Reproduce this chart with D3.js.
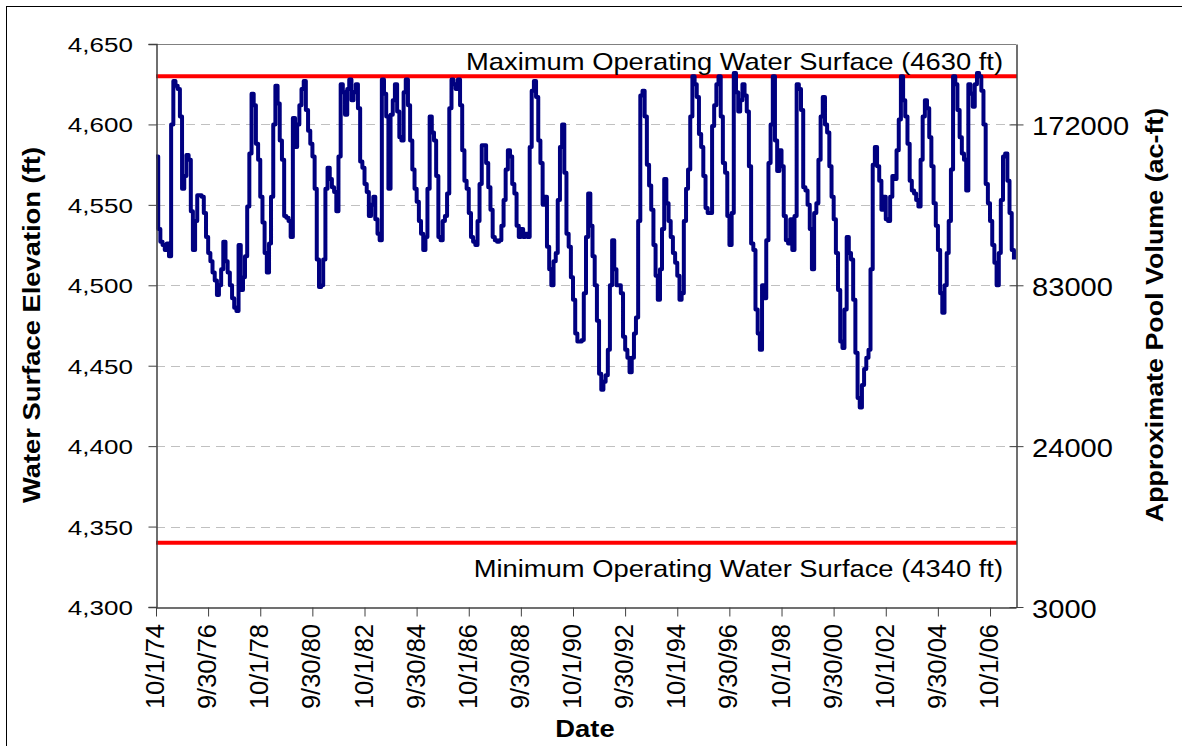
<!DOCTYPE html>
<html>
<head>
<meta charset="utf-8">
<script src="https://cdn.jsdelivr.net/npm/d3@7"></script>
<style>
  body { margin: 0; background: #fff; }
  svg { display: block; font-family: "Liberation Sans", Arial, sans-serif; }
</style>
</head>
<body>
<svg id="chart" width="1182" height="746"></svg>
<script>
// monthly pool elevation (ft), one row per water year (Oct..Sep)
var waterYears = [1975, 1976, 1977, 1978, 1979, 1980, 1981, 1982, 1983, 1984, 1985,
  1986, 1987, 1988, 1989, 1990, 1991, 1992, 1993, 1994, 1995, 1996,
  1997, 1998, 1999, 2000, 2001, 2002, 2003, 2004, 2005, 2006, 2007];

var elevationByYear = [
  [4580, 4535, 4527, 4525, 4522, 4526, 4518, 4600, 4627, 4624, 4622, 4605],
  [4560, 4568, 4581, 4578, 4546, 4522, 4540, 4556, 4556, 4555, 4545, 4530],
  [4520, 4515, 4508, 4503, 4494, 4500, 4510, 4527, 4515, 4508, 4500, 4492],
  [4486, 4484, 4525, 4497, 4505, 4518, 4549, 4582, 4619, 4612, 4588, 4578],
  [4555, 4539, 4520, 4508, 4526, 4555, 4600, 4624, 4613, 4590, 4578, 4543],
  [4542, 4540, 4530, 4604, 4586, 4600, 4612, 4622, 4627, 4609, 4596, 4588],
  [4580, 4560, 4516, 4499, 4500, 4516, 4560, 4573, 4566, 4561, 4558, 4546],
  [4580, 4625, 4620, 4606, 4622, 4628, 4615, 4620, 4625, 4610, 4577, 4573],
  [4563, 4558, 4543, 4550, 4555, 4541, 4532, 4528, 4628, 4619, 4605, 4560],
  [4606, 4615, 4625, 4608, 4592, 4590, 4620, 4628, 4612, 4590, 4572, 4560],
  [4552, 4540, 4532, 4522, 4530, 4560, 4605, 4595, 4590, 4568, 4530, 4528],
  [4540, 4543, 4557, 4610, 4628, 4625, 4622, 4628, 4612, 4584, 4565, 4560],
  [4545, 4530, 4527, 4525, 4540, 4563, 4587, 4587, 4576, 4561, 4547, 4530],
  [4528, 4527, 4528, 4537, 4553, 4572, 4584, 4580, 4563, 4557, 4537, 4530],
  [4535, 4530, 4532, 4530, 4586, 4621, 4627, 4617, 4590, 4576, 4550, 4555],
  [4524, 4510, 4500, 4515, 4520, 4553, 4586, 4600, 4570, 4532, 4524, 4505],
  [4491, 4470, 4465, 4465, 4466, 4495, 4530, 4557, 4537, 4518, 4500, 4478],
  [4445, 4435, 4440, 4444, 4460, 4500, 4528, 4510, 4500, 4500, 4495, 4468],
  [4460, 4455, 4446, 4455, 4470, 4480, 4540, 4618, 4621, 4605, 4575, 4562],
  [4547, 4525, 4506, 4491, 4510, 4535, 4566, 4551, 4540, 4530, 4520, 4514],
  [4506, 4491, 4495, 4540, 4560, 4572, 4605, 4630, 4625, 4617, 4594, 4586],
  [4568, 4548, 4545, 4545, 4599, 4612, 4625, 4630, 4605, 4576, 4570, 4543],
  [4525, 4545, 4632, 4620, 4608, 4615, 4625, 4618, 4608, 4574, 4526, 4522],
  [4485, 4470, 4460, 4500, 4492, 4528, 4576, 4600, 4630, 4590, 4571, 4584],
  [4574, 4543, 4528, 4526, 4541, 4522, 4543, 4625, 4622, 4609, 4561, 4559],
  [4550, 4535, 4510, 4545, 4551, 4578, 4605, 4617, 4600, 4595, 4574, 4555],
  [4541, 4520, 4497, 4465, 4461, 4485, 4530, 4520, 4516, 4491, 4458, 4430],
  [4424, 4438, 4448, 4455, 4460, 4510, 4575, 4586, 4574, 4565, 4547, 4555],
  [4541, 4540, 4555, 4568, 4566, 4584, 4603, 4630, 4615, 4605, 4588, 4565],
  [4559, 4557, 4553, 4549, 4578, 4605, 4615, 4610, 4592, 4574, 4551, 4537],
  [4522, 4495, 4483, 4500, 4520, 4540, 4572, 4630, 4625, 4609, 4592, 4582],
  [4578, 4559, 4625, 4619, 4611, 4625, 4632, 4630, 4621, 4600, 4563, 4551],
  [4540, 4525, 4514, 4500, 4520, 4553, 4580, 4582, 4565, 4545, 4522, 4516]
];

var dateTicks = ["10/1/74", "9/30/76", "10/1/78", "9/30/80", "10/1/82", "9/30/84",
  "10/1/86", "9/30/88", "10/1/90", "9/30/92", "10/1/94", "9/30/96", "10/1/98",
  "9/30/00", "10/1/02", "9/30/04", "10/1/06"];

var elevationTicks = [4300, 4350, 4400, 4450, 4500, 4550, 4600, 4650];
var volumeTickElev = [4300, 4400, 4500, 4600];
var volumeLabels = ["3000", "24000", "83000", "172000"];

var operatingLevels = [
  { elev: 4630, label: "Maximum Operating Water Surface (4630 ft)", dy: -6 },
  { elev: 4340, label: "Minimum Operating Water Surface (4340 ft)", dy: 34 }
];

var parseDate = d3.timeParse("%m/%d/%y");

var series = [];
elevationByYear.forEach(function(row, i) {
  row.forEach(function(v, m) {
    series.push({ date: new Date(waterYears[i] - 1, 9 + m, 1), elev: v });
  });
});

var svg = d3.select("#chart");
var width = +svg.attr("width");
var height = +svg.attr("height");

var plot = { left: 156, right: 1016, top: 44, bottom: 607 };

var x = d3.scaleTime()
  .domain([new Date(1974, 9, 1), new Date(2007, 8, 30)])
  .range([plot.left, plot.right]);

var y = d3.scaleLinear()
  .domain([4300, 4650])
  .range([plot.bottom, plot.top]);

// the original text is drawn a little wide, so each label gets its own x-stretch
function label(g, px, py, str, opts) {
  opts = opts || {};
  return g.append("text")
    .attr("transform", "translate(" + px + "," + py + ") rotate(" + (opts.rotate || 0) + ") scale(" + (opts.stretch || 1) + ",1)")
    .attr("text-anchor", opts.anchor || "start")
    .style("font-size", (opts.size || 22) + "px")
    .style("font-weight", opts.bold ? "bold" : "normal")
    .attr("fill", "#000")
    .text(str);
}

// outer chart frame (only top/left edges are inside the picture)
svg.append("rect")
  .attr("x", 6.5).attr("y", 6.5)
  .attr("width", width + 20).attr("height", height + 20)
  .attr("fill", "#fff")
  .attr("stroke", "#000")
  .attr("stroke-width", 1);

// gridlines
svg.append("g")
  .selectAll("line")
  .data(elevationTicks.filter(function(d) { return d > 4300 && d < 4650; }))
  .enter().append("line")
  .attr("x1", plot.left).attr("x2", plot.right)
  .attr("y1", function(d) { return Math.round(y(d)) + 0.5; })
  .attr("y2", function(d) { return Math.round(y(d)) + 0.5; })
  .attr("stroke", "#c0c0c0")
  .attr("stroke-dasharray", "9,6");

// top border of plot area
svg.append("line")
  .attr("x1", plot.left).attr("x2", plot.right)
  .attr("y1", plot.top + 0.5).attr("y2", plot.top + 0.5)
  .attr("stroke", "#808080");

// operating limits
var limits = svg.append("g");
limits.selectAll("line")
  .data(operatingLevels)
  .enter().append("line")
  .attr("x1", plot.left).attr("x2", plot.right + 1)
  .attr("y1", function(d) { return y(d.elev); })
  .attr("y2", function(d) { return y(d.elev); })
  .attr("stroke", "#ff0000")
  .attr("stroke-width", 4);

operatingLevels.forEach(function(d) {
  label(limits, 1003, y(d.elev) + d.dy, d.label, { anchor: "end", size: 24, stretch: 1.14 });
});

// elevation trace
var line = d3.line()
  .x(function(d) { return x(d.date); })
  .y(function(d) { return y(d.elev); })
  .curve(d3.curveStepAfter);

svg.append("path")
  .datum(series)
  .attr("fill", "none")
  .attr("stroke", "#000080")
  .attr("stroke-width", 4)
  .attr("stroke-linejoin", "round")
  .attr("d", line);

// left axis
var leftAxis = svg.append("g")
  .attr("transform", "translate(" + (plot.left + 0.5) + ",0)")
  .call(d3.axisLeft(y).tickValues(elevationTicks).tickSize(8).tickFormat(""));
leftAxis.select(".domain").attr("stroke", "#404040").attr("stroke-width", 1.5);
leftAxis.selectAll(".tick line").attr("stroke", "#404040");

elevationTicks.forEach(function(d) {
  label(svg, 133, y(d) + 8, d3.format(",")(d), { anchor: "end", size: 21, stretch: 1.24 });
});

// right axis (pool volume)
var rightAxis = svg.append("g")
  .attr("transform", "translate(" + (plot.right + 0.5) + ",0)")
  .call(d3.axisRight(y).tickValues(volumeTickElev).tickSize(7).tickSizeOuter(0).tickFormat(""));
rightAxis.select(".domain").attr("stroke", "#404040").attr("stroke-width", 1.5);
rightAxis.selectAll(".tick line").attr("x1", -7).attr("stroke", "#404040");

volumeTickElev.forEach(function(d, i) {
  label(svg, 1032, y(d) + 11, volumeLabels[i], { size: 26, stretch: 1.12 });
});

// bottom axis
var tickDates = dateTicks.map(parseDate);
var bottomAxis = svg.append("g")
  .attr("transform", "translate(0," + (plot.bottom + 0.5) + ")")
  .call(d3.axisBottom(x).tickValues(tickDates).tickSize(9).tickSizeOuter(0).tickFormat(""));
bottomAxis.select(".domain").attr("stroke", "#404040").attr("stroke-width", 1.5);
bottomAxis.selectAll(".tick line").attr("stroke", "#404040");

tickDates.forEach(function(d, i) {
  label(svg, x(d) + 8, 624, dateTicks[i], { anchor: "end", rotate: -90, size: 25, stretch: 1.02 });
});

// axis titles
label(svg, 40, 325, "Water Surface Elevation (ft)", { anchor: "middle", rotate: -90, size: 24, bold: true, stretch: 1.14 });
label(svg, 1163, 315, "Approximate Pool Volume (ac-ft)", { anchor: "middle", rotate: -90, size: 24, bold: true, stretch: 1.12 });
label(svg, 585, 737, "Date", { anchor: "middle", size: 24, bold: true, stretch: 1.14 });
</script>
</body>
</html>
